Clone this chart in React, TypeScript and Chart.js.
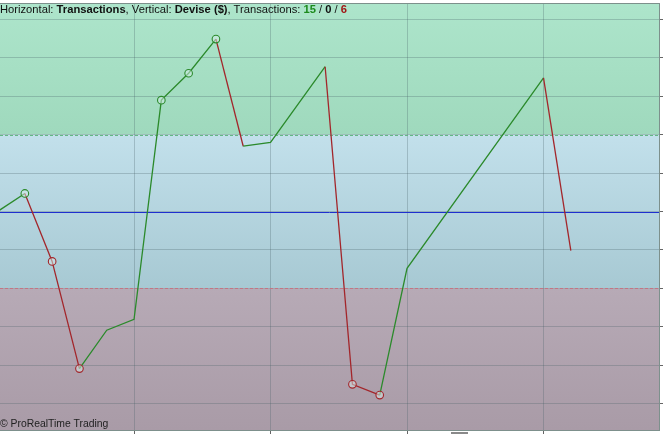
import React, { useEffect, useRef } from 'react';
import { Chart, registerables } from 'chart.js';

Chart.register(...registerables);

// equity curve: one vertex per visible break in the line
const transactions = [0, 1, 2, 3, 4, 5, 6, 7, 8, 9, 10, 12, 13, 14, 15, 20, 21];
const equity = [0, 47, -130, -409, -309, -281, 290, 360, 449, 170, 180, 377, -450, -478, -148, 348, -102];
const circled = [false, true, true, true, false, false, true, true, true, false, false, false, true, true, false, false, false];

const xTicks = [5, 10, 15, 20];
const yTicks = [-500, -400, -300, -200, -100, 0, 100, 200, 300, 400, 500];

const upperLevel = 200;
const lowerLevel = -200;
const baseLevel = 0;

const GREEN = '#2b8a2b';
const RED = '#a3262b';

// coloured bands + level lines
const zonesPlugin = {
    id: 'zones',
    beforeDraw(chart: any) {
        const { ctx, chartArea: a, scales } = chart;
        const y = scales.y;
        const yUp = y.getPixelForValue(upperLevel);
        const yLo = y.getPixelForValue(lowerLevel);
        const band = (top: number, bottom: number, c1: string, c2: string) => {
            const g = ctx.createLinearGradient(0, top, 0, bottom);
            g.addColorStop(0, c1);
            g.addColorStop(1, c2);
            ctx.fillStyle = g;
            ctx.fillRect(a.left, top, a.right - a.left, bottom - top);
        };
        ctx.save();
        band(a.top, yUp, '#ade5cb', '#9fd9bd');
        band(yUp, yLo, '#c2e0eb', '#a7c9d3');
        band(yLo, a.bottom, '#b7aab6', '#a99ba7');
        ctx.restore();
    },
    beforeDatasetsDraw(chart: any) {
        const { ctx, chartArea: a, scales } = chart;
        const y = scales.y;
        const hline = (v: number, color: string, dash: number[]) => {
            const py = Math.round(y.getPixelForValue(v)) + 0.5;
            ctx.beginPath();
            ctx.setLineDash(dash);
            ctx.strokeStyle = color;
            ctx.lineWidth = 1;
            ctx.moveTo(a.left, py);
            ctx.lineTo(a.right, py);
            ctx.stroke();
        };
        ctx.save();
        hline(upperLevel, '#62b884', [3, 2]);
        hline(lowerLevel, '#c47584', [3, 2]);
        hline(baseLevel, '#1f2fd0', []);
        // top frame line
        ctx.setLineDash([]);
        ctx.strokeStyle = '#7d908c';
        ctx.beginPath();
        ctx.moveTo(a.left, a.top + 0.5);
        ctx.lineTo(a.right, a.top + 0.5);
        ctx.stroke();
        ctx.restore();
    },
};

const EquityChart: React.FC = () => {
    const ref = useRef<HTMLCanvasElement>(null);

    useEffect(() => {
        if (!ref.current) return;
        document.body.style.margin = '0';

        const chart = new Chart(ref.current, {
            type: 'line',
            data: {
                datasets: [
                    {
                        data: transactions.map((t, i) => ({ x: t, y: equity[i] })),
                        borderWidth: 1.3,
                        tension: 0,
                        segment: {
                            borderColor: (c: any) => (c.p1.parsed.y >= c.p0.parsed.y ? GREEN : RED),
                        },
                        pointRadius: (c: any) => (circled[c.dataIndex] ? 3.8 : 0),
                        pointBorderWidth: 1.1,
                        pointBorderColor: (c: any) => {
                            const i = c.dataIndex;
                            return i > 0 && equity[i] < equity[i - 1] ? RED : GREEN;
                        },
                        pointBackgroundColor: 'rgba(215,238,235,0.5)',
                    },
                ],
            },
            options: {
                animation: false,
                responsive: true,
                maintainAspectRatio: false,
                layout: { padding: { top: 3, left: 0, right: 0, bottom: 0 } },
                plugins: { legend: { display: false }, tooltip: { enabled: false } },
                scales: {
                    x: {
                        type: 'linear',
                        min: 0.09,
                        max: 24.23,
                        afterBuildTicks: (s: any) => {
                            s.ticks = xTicks.map(v => ({ value: v }));
                        },
                        ticks: { display: false },
                        grid: {
                            color: 'rgba(70,95,100,0.28)',
                            tickColor: '#666',
                            tickLength: 4,
                        },
                        border: { color: '#7d908c' },
                    },
                    y: {
                        position: 'right',
                        min: -569,
                        max: 543,
                        afterBuildTicks: (s: any) => {
                            s.ticks = yTicks.map(v => ({ value: v }));
                        },
                        ticks: { display: false },
                        grid: {
                            color: 'rgba(70,95,100,0.28)',
                            tickColor: '#666',
                            tickLength: 4,
                        },
                        border: { color: '#7d908c' },
                    },
                },
            },
            plugins: [zonesPlugin],
        });

        return () => {
            chart.destroy();
        };
    }, []);

    return <canvas ref={ref}></canvas>;
};

export default function App() {
    const font = '"Liberation Sans", Arial, sans-serif';
    return (
        <div style={{ position: 'relative', width: 663, height: 434, background: '#fff' }}>
            <EquityChart />
            <div style={{ position: 'absolute', left: 0, top: 3, fontFamily: font, fontSize: 11.2, color: '#111', whiteSpace: 'nowrap', lineHeight: '13px' }}>
                Horizontal: <b>Transactions</b>, Vertical: <b>Devise ($)</b>, Transactions: <b style={{ color: '#1c8a1c' }}>15</b> / <b>0</b> / <b style={{ color: '#a01515' }}>6</b>
            </div>
            <div style={{ position: 'absolute', left: 0, top: 418, fontFamily: font, fontSize: 10.4, color: '#222', whiteSpace: 'nowrap', lineHeight: '12px' }}>
                © ProRealTime Trading
            </div>
            <div style={{ position: 'absolute', left: 451, top: 432, width: 17, height: 2, background: '#8a8a8a' }} />
        </div>
    );
}
